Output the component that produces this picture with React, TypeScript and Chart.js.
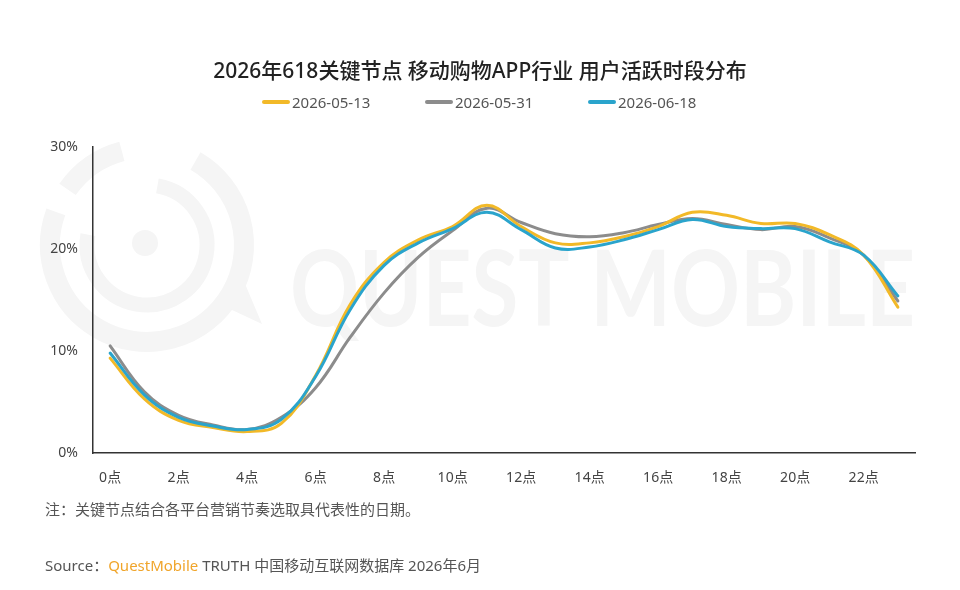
import React, { useEffect, useRef } from "react";
import { Chart, registerables } from "chart.js";

Chart.register(...registerables);

const title = "2026年618关键节点 移动购物APP行业 用户活跃时段分布";
const hours = ["0点","1点","2点","3点","4点","5点","6点","7点","8点","9点","10点","11点","12点","13点","14点","15点","16点","17点","18点","19点","20点","21点","22点","23点"];
const seriesNames = ["2026-05-13", "2026-05-31", "2026-06-18"];
const seriesColors = ["#F2B928", "#8C8C8C", "#2AA4CC"];
const may13 = [9.3, 5.3, 3.2, 2.5, 2.1, 2.9, 7.6, 14.5, 18.7, 20.9, 22.2, 24.3, 22.2, 20.6, 20.6, 21.2, 22.2, 23.6, 23.3, 22.5, 22.5, 21.4, 19.4, 14.3];
const may31 = [10.5, 6.0, 3.7, 2.75, 2.3, 3.5, 6.4, 11.3, 15.7, 19.2, 21.8, 24.0, 22.6, 21.5, 21.2, 21.6, 22.4, 23.0, 22.4, 21.9, 22.2, 21.1, 19.4, 14.9];
const jun18 = [9.8, 5.7, 3.5, 2.65, 2.3, 3.3, 7.5, 14.0, 18.4, 20.6, 22.0, 23.6, 21.9, 20.1, 20.2, 20.9, 21.9, 22.9, 22.2, 22.0, 22.0, 20.7, 19.4, 15.4];
const yTicks = [0, 10, 20, 30];
const note = "注：关键节点结合各平台营销节奏选取具代表性的日期。";
const sourceLabel = "Source：";
const sourceBrand = "QuestMobile";
const sourceRest = " TRUTH 中国移动互联网数据库 2026年6月";
const watermarkText = "QUEST MOBILE";

const FONT = '"Noto Sans", "Noto Sans CJK SC", sans-serif';

const watermarkPlugin = {
  id: "watermark",
  beforeDraw(chart: any) {
    const ctx = chart.ctx as CanvasRenderingContext2D;
    ctx.save();
    ctx.strokeStyle = "#f5f5f5";
    ctx.fillStyle = "#f5f5f5";
    ctx.lineCap = "butt";
    const cx = 147, cy = 245;
    // outer ring
    ctx.lineWidth = 20;
    ctx.beginPath();
    ctx.arc(cx, cy, 97, (-60 * Math.PI) / 180, (200 * Math.PI) / 180);
    ctx.stroke();
    ctx.beginPath();
    ctx.arc(cx, cy, 97, (215 * Math.PI) / 180, (255 * Math.PI) / 180);
    ctx.stroke();
    // tail
    ctx.beginPath();
    ctx.moveTo(215, 302);
    ctx.lineTo(262, 324);
    ctx.lineTo(240, 272);
    ctx.closePath();
    ctx.fill();
    // inner ring
    ctx.lineWidth = 15;
    ctx.beginPath();
    ctx.arc(cx, cy, 60, (-80 * Math.PI) / 180, (190 * Math.PI) / 180);
    ctx.stroke();
    // dot
    ctx.beginPath();
    ctx.arc(cx - 2, cy - 2, 13, 0, Math.PI * 2);
    ctx.fill();
    // text
    ctx.font = '700 106px Lato, "Open Sans", sans-serif';
    ctx.textBaseline = "alphabetic";
    ctx.textAlign = "left";
    ctx.fillText(watermarkText, 290, 326, 625);
    ctx.restore();
  },
};

export default function App() {
  const canvasRef = useRef<HTMLCanvasElement | null>(null);

  useEffect(() => {
    if (!canvasRef.current) return;
    const seriesData = [may13, may31, jun18];
    const orders = [1, 2, 0];
    const chart = new Chart(canvasRef.current, {
      type: "line",
      data: {
        labels: hours,
        datasets: seriesData.map((d, i) => ({
          label: seriesNames[i],
          data: d,
          borderColor: seriesColors[i],
          backgroundColor: seriesColors[i],
          borderWidth: 3,
          pointRadius: 0,
          pointHoverRadius: 0,
          tension: 0.4,
          fill: false,
          order: orders[i],
          borderCapStyle: "round" as const,
        })),
      },
      options: {
        animation: false,
        responsive: true,
        maintainAspectRatio: false,
        layout: { padding: { top: 147, left: 0, right: 45, bottom: 0 } },
        plugins: {
          legend: { display: false },
          title: { display: false },
          tooltip: { enabled: false },
        },
        scales: {
          x: {
            type: "category",
            offset: true,
            grid: { display: false, drawTicks: false },
            border: { display: true, color: "#333333", width: 1.5 },
            ticks: {
              padding: 17,
              autoSkip: false,
              maxRotation: 0,
              color: "#444444",
              font: { family: FONT, size: 14 },
              callback: (_v: any, i: number) => (i % 2 === 0 ? hours[i] : ""),
            },
            afterFit: (s: any) => {
              s.height = 137;
            },
          },
          y: {
            min: 0,
            max: 30,
            grid: { display: false, drawTicks: false },
            border: { display: true, color: "#333333", width: 1.5 },
            afterBuildTicks: (s: any) => {
              s.ticks = yTicks.map((v) => ({ value: v }));
            },
            ticks: {
              padding: 15,
              color: "#444444",
              font: { family: FONT, size: 14 },
              callback: (v: any) => v + "%",
            },
            afterFit: (s: any) => {
              s.width = 93;
            },
          },
        },
      },
      plugins: [watermarkPlugin],
    });
    return () => chart.destroy();
  }, []);

  return (
    <div
      style={{
        position: "absolute",
        left: 0,
        top: 0,
        width: 960,
        height: 590,
        background: "#ffffff",
        overflow: "hidden",
        fontFamily: FONT,
      }}
    >
      <div style={{ position: "absolute", left: 0, top: 0, width: 960, height: 590 }}>
        <canvas ref={canvasRef} />
      </div>
      <div
        style={{
          position: "absolute",
          left: 0,
          width: 960,
          top: 55,
          textAlign: "center",
          fontSize: 21,
          lineHeight: "30px",
          fontWeight: 500,
          color: "#222222",
        }}
      >
        {title}
      </div>
      {seriesNames.map((name, i) => (
        <div
          key={name}
          style={{
            position: "absolute",
            left: 262 + i * 163,
            top: 92,
            height: 20,
            display: "flex",
            alignItems: "center",
            fontSize: 15,
            color: "#555555",
            whiteSpace: "nowrap",
          }}
        >
          <span
            style={{
              display: "inline-block",
              width: 28,
              height: 4,
              borderRadius: 2,
              background: seriesColors[i],
              marginRight: 2,
            }}
          />
          <span>{name}</span>
        </div>
      ))}
      <div
        style={{
          position: "absolute",
          left: 45,
          top: 499,
          fontSize: 15,
          lineHeight: "20px",
          color: "#555555",
          whiteSpace: "nowrap",
        }}
      >
        {note}
      </div>
      <div
        style={{
          position: "absolute",
          left: 45,
          top: 555,
          fontSize: 15,
          lineHeight: "20px",
          color: "#555555",
          whiteSpace: "nowrap",
        }}
      >
        {sourceLabel}
        <span style={{ color: "#F0A52B" }}>{sourceBrand}</span>
        {sourceRest}
      </div>
    </div>
  );
}
